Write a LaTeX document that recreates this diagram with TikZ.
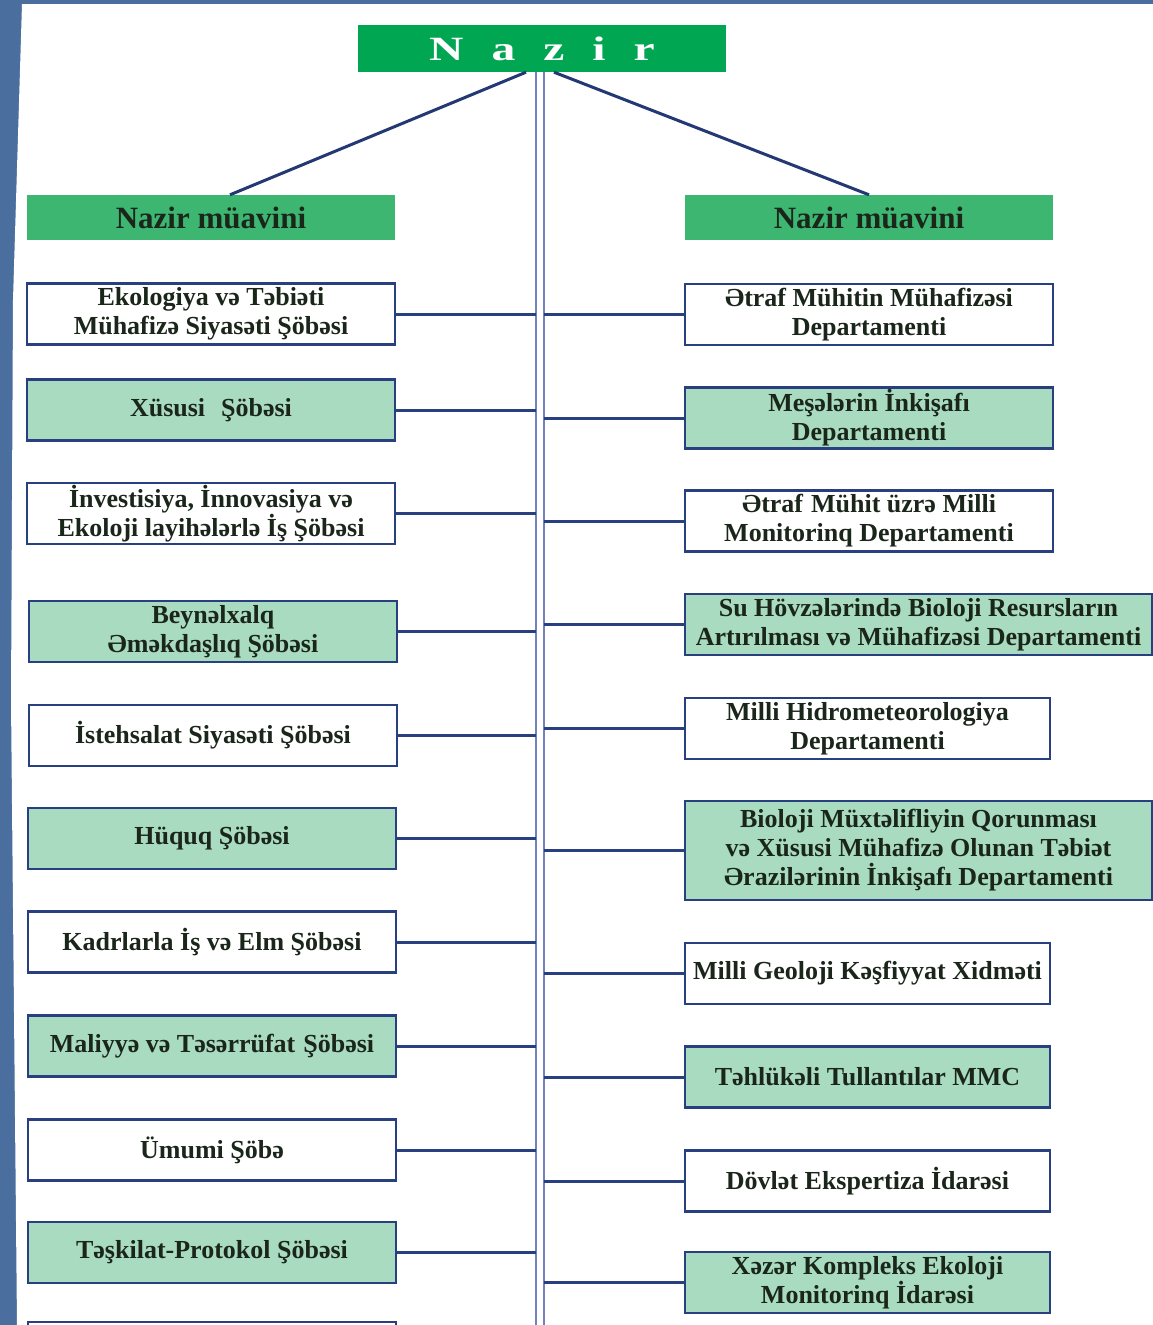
\documentclass[tikz,border=0pt]{standalone}
\usepackage{fontspec}
\setmainfont{Liberation Serif}
\usepackage{graphicx}
\definecolor{bgblue}{HTML}{4A6E9E}
\definecolor{navy}{HTML}{283F80}
\definecolor{vline}{HTML}{7381BE}
\definecolor{topgreen}{HTML}{00A651}
\definecolor{midgreen}{HTML}{3DB672}
\definecolor{mint}{HTML}{A9DBC0}
\definecolor{txt}{HTML}{1B261B}
\begin{document}
\begin{tikzpicture}[x=1pt,y=-1pt,
  box/.style={draw=navy, line width=2.6pt, minimum width=368pt, minimum height=61pt,
    inner sep=1pt, align=center, text=txt,
    font=\fontsize{26}{29}\selectfont\bfseries},
  wbox/.style={box, fill=white},
  gbox/.style={box, fill=mint},
  dep/.style={fill=midgreen, draw=none, minimum width=368pt, minimum height=45pt,
    text=txt, font=\fontsize{31}{31}\selectfont\bfseries},
  conn/.style={draw=navy, line width=3pt},
  diag/.style={draw=navy!90!black, line width=3pt},
  vl/.style={draw=vline, line width=2.6pt}]
\useasboundingbox (0,0) rectangle (1153,1325);
\clip (0,0) rectangle (1153,1325);
\fill[bgblue] (0,0) rectangle (1153,1325);
\fill[white] (22,4) -- (1153,4) -- (1153,1325) -- (17,1325) -- (11,700) -- (13,300) -- cycle;

% top
\node[fill=topgreen, minimum width=368pt, minimum height=47pt, inner sep=0pt, text=white]
  (Nazir) at (542,48.5)
  {\scalebox{1.4}[1]{\fontsize{34}{34}\selectfont\bfseries N\hskip20pt a\hskip20pt z\hskip20pt i\hskip20pt r}};
\node[dep] (ML) at (211,217.5) {Nazir müavini};
\node[dep] (MR) at (869,217.5) {Nazir müavini};

\draw[diag] ([xshift=-16pt]Nazir.south) -- ([xshift=19pt]ML.north);
\draw[diag] ([xshift=12pt]Nazir.south) -- (MR.north);

% central double line
\coordinate (vA) at (536,1330);
\coordinate (vB) at (544,1330);
\draw[vl] (Nazir.south -| vA) -- (vA);
\draw[vl] (Nazir.south -| vB) -- (vB);

% left column
\node[wbox] (L1) at (211,314) {Ekologiya və Təbiəti\\Mühafizə Siyasəti Şöbəsi};
\node[gbox] (L2) at (211,410) {Xüsusi\hspace{16pt}Şöbəsi};
\node[wbox, font=\fontsize{26}{25}\selectfont\bfseries] (L3) at (211,513.5) {İnvestisiya, İnnovasiya və\\Ekoloji layihələrlə İş Şöbəsi};
\node[gbox] (L4) at (213,631.5) {Beynəlxalq\\Əməkdaşlıq Şöbəsi};
\node[wbox] (L5) at (213,735.5) {İstehsalat Siyasəti Şöbəsi};
\node[gbox] (L6) at (212,838.5) {Hüquq Şöbəsi};
\node[wbox] (L7) at (212,942) {Kadrlarla İş və Elm Şöbəsi};
\node[gbox] (L8) at (212,1046) {Maliyyə və Təsərrüfat\hspace{8pt}Şöbəsi};
\node[wbox] (L9) at (212,1150) {Ümumi Şöbə};
\node[gbox] (L10) at (212,1252.5) {Təşkilat-Protokol Şöbəsi};
\node[wbox] (L11) at (212,1352.5) {};

\foreach \n in {L1,L2,L3,L4,L5,L6,L7,L8,L9,L10}
  \draw[conn] (\n.east) -- (\n.east -| vA);

% right column
\node[wbox] (R1) at (869,314.5) {Ətraf Mühitin Mühafizəsi\\Departamenti};
\node[gbox] (R2) at (869,418) {Meşələrin İnkişafı\\Departamenti};
\node[wbox] (R3) at (869,521) {Ətraf\hspace{8pt}Mühit üzrə Milli\\Monitorinq Departamenti};
\node[gbox, minimum width=467pt] (R4) at (918.5,624.5) {Su Hövzələrində Bioloji Resursların\\Artırılması və Mühafizəsi Departamenti};
\node[wbox, minimum width=365pt] (R5) at (867.5,728.5) {Milli Hidrometeorologiya\\Departamenti};
\node[gbox, minimum width=467pt, minimum height=99pt] (R6) at (918.5,850.5) {Bioloji Müxtəlifliyin Qorunması\\və Xüsusi Mühafizə Olunan Təbiət\\Ərazilərinin İnkişafı Departamenti};
\node[wbox, minimum width=365pt] (R7) at (867.5,973.5) {Milli Geoloji Kəşfiyyat Xidməti};
\node[gbox, minimum width=365pt] (R8) at (867.5,1077) {Təhlükəli Tullantılar MMC};
\node[wbox, minimum width=365pt] (R9) at (867.5,1181) {Dövlət Ekspertiza İdarəsi};
\node[gbox, minimum width=365pt] (R10) at (867.5,1282.5) {Xəzər Kompleks Ekoloji\\Monitorinq İdarəsi};

\foreach \n in {R1,R2,R3,R4,R5,R6,R7,R8,R9,R10}
  \draw[conn] (\n.west -| vB) -- (\n.west);
\end{tikzpicture}
\end{document}
